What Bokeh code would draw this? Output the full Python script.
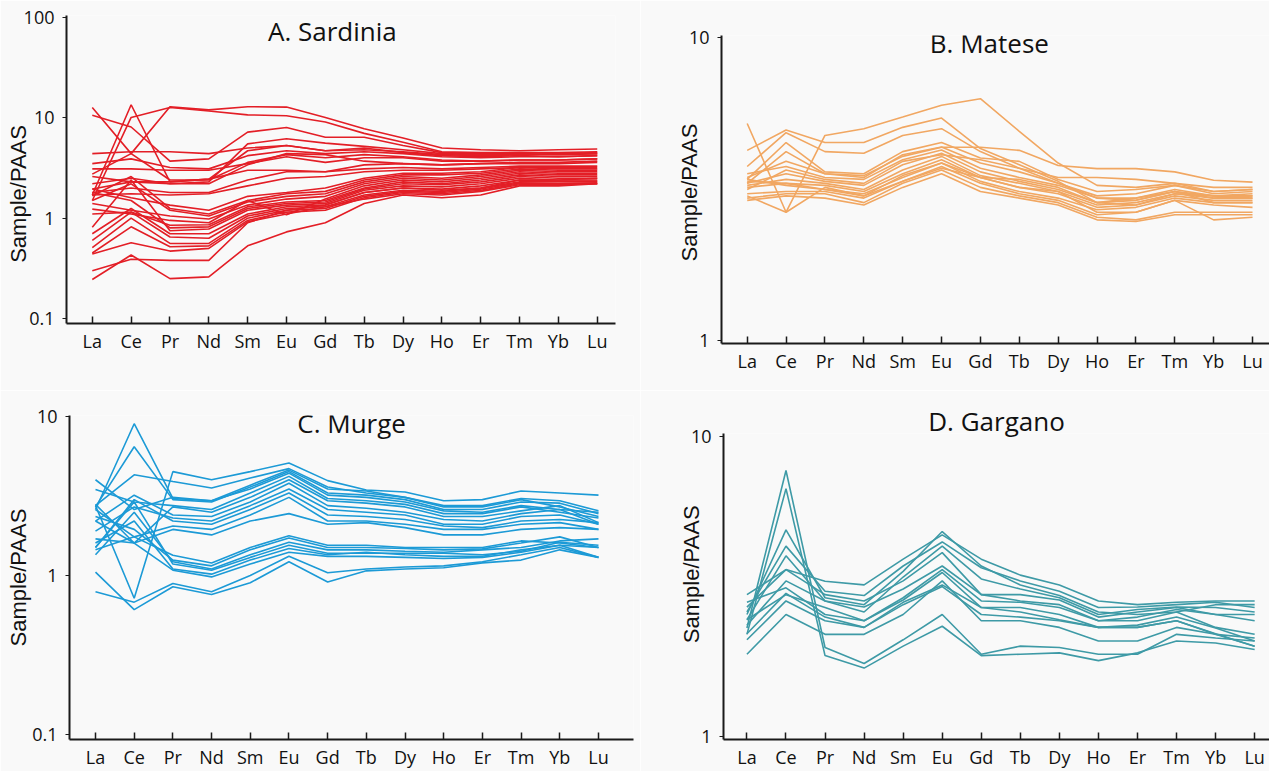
from bokeh.plotting import figure
from bokeh.layouts import column, row
from bokeh.models import FixedTicker, CustomJSTickFormatter, Label, Range1d, Title
from bokeh.embed import file_html
from bokeh.resources import INLINE

elements = ["La", "Ce", "Pr", "Nd", "Sm", "Eu", "Gd", "Tb", "Dy", "Ho", "Er", "Tm", "Yb", "Lu"]

# A. Sardinia  (Sample/PAAS, one row per sample, La..Lu)
sardinia = [
    [12.7, 4.4, 2.4, 2.4, 3.6, 4.3, 4.0, 4.3, 4.1, 3.8, 3.7, 3.8, 3.8, 3.9],
    [10.6, 8.1, 3.7, 3.9, 7.2, 8.0, 6.4, 6.4, 5.3, 4.5, 4.4, 4.4, 4.3, 4.4],
    [1.7, 13.5, 2.3, 2.45, 4.7, 5.3, 4.7, 5.0, 4.5, 4.2, 4.1, 4.2, 4.1, 4.2],
    [2.75, 4.4, 12.9, 12.0, 12.9, 12.8, 10.1, 7.8, 6.3, 5.0, 4.8, 4.7, 4.8, 4.9],
    [1.5, 10.1, 12.7, 11.7, 10.7, 10.5, 9.1, 7.0, 5.7, 4.6, 4.5, 4.5, 4.5, 4.6],
    [4.4, 4.6, 4.6, 4.4, 5.0, 5.3, 4.7, 4.8, 4.6, 4.3, 4.2, 4.3, 4.4, 4.5],
    [3.5, 3.9, 3.2, 3.1, 4.2, 4.7, 4.4, 4.6, 4.4, 4.1, 4.0, 4.1, 4.1, 4.2],
    [3.1, 3.1, 3.0, 3.0, 3.5, 4.1, 3.6, 4.0, 4.0, 3.7, 3.7, 3.8, 3.8, 3.9],
    [2.6, 2.3, 2.2, 2.2, 3.4, 4.4, 4.3, 3.7, 3.5, 3.4, 3.5, 3.6, 3.6, 3.7],
    [2.2, 2.5, 2.2, 2.3, 5.5, 6.2, 5.6, 5.2, 4.8, 4.4, 4.3, 4.3, 4.3, 4.4],
    [1.95, 2.3, 2.3, 2.45, 3.0, 3.0, 2.9, 3.4, 3.5, 3.4, 3.5, 3.5, 3.5, 3.6],
    [1.8, 2.0, 1.8, 1.8, 2.4, 2.9, 2.9, 3.1, 3.2, 3.1, 3.2, 3.3, 3.3, 3.3],
    [1.7, 1.75, 1.7, 1.75, 2.1, 2.5, 2.6, 2.9, 3.0, 3.0, 3.1, 3.2, 3.2, 3.2],
    [1.95, 1.6, 1.35, 1.2, 1.65, 1.8, 2.0, 2.5, 2.8, 2.8, 2.9, 3.2, 3.1, 3.1],
    [1.67, 2.6, 1.25, 1.1, 1.5, 1.75, 1.85, 2.4, 2.7, 2.7, 2.8, 3.1, 3.0, 3.0],
    [1.5, 2.2, 1.2, 1.05, 1.45, 1.65, 1.75, 2.3, 2.6, 2.5, 2.7, 3.0, 2.9, 2.9],
    [1.4, 1.2, 1.05, 0.98, 1.35, 1.55, 1.65, 2.2, 2.5, 2.4, 2.6, 2.9, 2.8, 2.8],
    [1.23, 1.1, 0.95, 0.9, 1.5, 1.08, 1.55, 2.1, 2.4, 2.3, 2.5, 2.8, 2.7, 2.7],
    [1.1, 1.15, 0.85, 0.86, 1.3, 1.45, 1.5, 2.0, 2.3, 2.2, 2.4, 2.7, 2.6, 2.6],
    [1.8, 1.5, 0.8, 0.82, 1.25, 1.4, 1.45, 1.95, 2.2, 2.15, 2.3, 2.6, 2.5, 2.5],
    [0.81, 2.4, 0.75, 0.78, 1.2, 1.35, 1.4, 1.9, 2.1, 2.05, 2.2, 2.5, 2.4, 2.4],
    [0.7, 1.25, 0.7, 0.7, 1.1, 1.3, 1.35, 1.8, 2.0, 1.95, 2.1, 2.4, 2.35, 2.35],
    [0.6, 1.15, 0.65, 0.63, 1.05, 1.25, 1.3, 1.7, 1.9, 1.85, 2.0, 2.3, 2.3, 2.3],
    [0.51, 1.0, 0.56, 0.56, 1.0, 1.2, 1.25, 1.65, 1.85, 1.8, 1.95, 2.25, 2.2, 2.25],
    [0.45, 0.82, 0.52, 0.53, 0.95, 1.15, 1.2, 1.6, 1.8, 1.75, 1.9, 2.2, 2.2, 2.2],
    [0.44, 0.57, 0.47, 0.5, 0.92, 1.1, 1.3, 1.55, 1.75, 1.7, 1.85, 2.15, 2.15, 2.2],
    [0.30, 0.39, 0.38, 0.38, 0.9, 1.2, 1.35, 1.8, 2.0, 1.9, 2.0, 2.4, 2.4, 2.5],
    [0.245, 0.43, 0.25, 0.26, 0.53, 0.73, 0.9, 1.4, 1.7, 1.6, 1.7, 2.1, 2.1, 2.2],
]

# B. Matese
matese = [
    [5.2, 2.65, 3.2, 3.0, 3.5, 3.85, 3.45, 3.2, 3.1, 2.65, 2.65, 2.9, 2.5, 2.55],
    [3.0, 2.65, 4.75, 5.0, 5.46, 5.97, 6.28, 4.9, 3.85, 3.25, 3.2, 3.3, 3.2, 3.2],
    [4.24, 4.95, 4.5, 4.5, 5.05, 5.42, 4.3, 3.8, 3.35, 2.85, 2.8, 3.05, 3.0, 2.95],
    [3.75, 4.85, 4.2, 4.15, 4.75, 5.0, 4.2, 3.7, 3.3, 2.95, 2.9, 3.1, 3.0, 3.0],
    [3.45, 3.9, 3.55, 3.5, 4.05, 4.34, 4.34, 4.24, 3.78, 3.69, 3.69, 3.6, 3.38, 3.33],
    [3.4, 4.5, 3.6, 3.55, 4.2, 4.5, 4.0, 3.9, 3.4, 3.1, 3.15, 3.25, 3.1, 3.15],
    [3.3, 4.2, 3.55, 3.45, 4.1, 4.35, 3.85, 3.6, 3.3, 3.0, 3.05, 3.25, 3.05, 3.1],
    [3.55, 3.75, 3.45, 3.4, 3.95, 4.25, 3.7, 3.45, 3.25, 2.95, 2.95, 3.15, 3.0, 3.05],
    [3.3, 3.55, 3.35, 3.25, 3.8, 4.15, 3.6, 3.35, 3.15, 2.85, 2.9, 3.1, 2.95, 3.0],
    [3.25, 3.4, 3.3, 3.15, 3.65, 4.05, 3.5, 3.3, 3.1, 2.8, 2.85, 3.05, 2.95, 2.95],
    [3.35, 3.3, 3.25, 3.1, 3.55, 3.95, 3.45, 3.2, 3.05, 2.75, 2.8, 3.0, 2.9, 2.9],
    [3.2, 3.3, 3.15, 3.05, 3.45, 3.85, 3.35, 3.1, 2.95, 2.7, 2.75, 2.95, 2.85, 2.85],
    [3.05, 3.1, 3.1, 2.95, 3.35, 3.75, 3.3, 3.05, 2.9, 2.6, 2.65, 2.9, 2.8, 2.75],
    [2.95, 3.05, 3.05, 2.85, 3.3, 3.65, 3.2, 3.0, 2.85, 2.55, 2.5, 2.65, 2.65, 2.65],
    [2.9, 3.0, 2.95, 2.8, 3.2, 3.55, 3.1, 2.95, 2.8, 2.5, 2.47, 2.6, 2.6, 2.6],
    [3.4, 3.25, 3.15, 3.0, 3.35, 3.7, 3.45, 3.4, 3.2, 2.85, 2.95, 3.1, 2.85, 2.85],
    [3.15, 3.65, 3.4, 3.3, 3.9, 4.1, 3.95, 3.7, 3.45, 3.45, 3.4, 3.3, 3.1, 3.15],
]

# C. Murge
murge = [
    [2.75, 0.72, 4.5, 4.0, 4.5, 5.1, 3.95, 3.45, 3.35, 2.95, 3.0, 3.4, 3.3, 3.2],
    [2.6, 9.0, 3.05, 2.95, 3.7, 4.6, 3.5, 3.4, 3.1, 2.75, 2.75, 3.05, 2.95, 2.55],
    [2.7, 6.45, 3.0, 2.9, 3.6, 4.5, 3.3, 3.2, 3.0, 2.6, 2.6, 2.9, 2.85, 2.45],
    [2.75, 4.3, 3.9, 3.55, 4.1, 4.7, 3.6, 3.3, 3.1, 2.7, 2.7, 3.0, 2.7, 2.35],
    [4.0, 2.6, 3.1, 2.95, 3.5, 4.4, 3.2, 3.1, 2.9, 2.55, 2.5, 2.75, 2.6, 2.5],
    [3.47, 2.9, 2.75, 2.6, 3.3, 4.2, 3.05, 2.95, 2.8, 2.45, 2.45, 2.7, 2.5, 2.3],
    [2.8, 1.6, 2.7, 2.5, 3.1, 4.0, 2.95, 2.85, 2.7, 2.35, 2.35, 2.55, 2.75, 2.15],
    [2.2, 3.2, 2.4, 2.35, 2.9, 3.8, 2.75, 2.65, 2.5, 2.25, 2.2, 2.45, 2.6, 2.1],
    [1.9, 2.7, 2.3, 2.2, 2.75, 3.5, 2.6, 2.5, 2.4, 2.1, 2.1, 2.35, 2.4, 2.1],
    [1.5, 3.0, 2.2, 2.1, 2.6, 3.3, 2.4, 2.35, 2.25, 2.05, 2.0, 2.2, 2.25, 2.15],
    [1.45, 1.75, 2.05, 1.95, 2.4, 3.1, 2.2, 2.2, 2.1, 1.95, 1.95, 2.1, 2.15, 1.95],
    [2.2, 1.6, 1.95, 1.8, 2.2, 2.45, 2.1, 2.15, 2.0, 1.8, 1.8, 1.95, 2.0, 1.95],
    [2.6, 1.75, 1.34, 1.2, 1.5, 1.78, 1.55, 1.55, 1.5, 1.5, 1.5, 1.65, 1.6, 1.5],
    [2.35, 1.95, 1.25, 1.15, 1.45, 1.72, 1.5, 1.5, 1.48, 1.45, 1.47, 1.6, 1.75, 1.5],
    [1.35, 2.5, 1.22, 1.1, 1.35, 1.62, 1.45, 1.45, 1.42, 1.4, 1.45, 1.5, 1.65, 1.7],
    [1.5, 2.9, 1.18, 1.08, 1.3, 1.55, 1.38, 1.38, 1.38, 1.38, 1.35, 1.42, 1.62, 1.55],
    [1.6, 2.2, 1.1, 1.02, 1.25, 1.48, 1.35, 1.4, 1.35, 1.32, 1.32, 1.45, 1.55, 1.5],
    [1.7, 1.6, 1.08, 0.98, 1.18, 1.4, 1.32, 1.32, 1.3, 1.28, 1.3, 1.4, 1.55, 1.3],
    [1.05, 0.61, 0.85, 0.76, 0.9, 1.22, 0.91, 1.07, 1.1, 1.12, 1.2, 1.25, 1.45, 1.3],
    [0.79, 0.68, 0.89, 0.79, 1.0, 1.32, 1.04, 1.1, 1.13, 1.15, 1.22, 1.35, 1.5, 1.3],
]

# D. Gargano
gargano = [
    [2.3, 7.7, 1.98, 1.75, 2.1, 2.55, 1.88, 2.0, 1.98, 1.88, 1.88, 2.19, 2.13, 2.08],
    [2.19, 6.7, 1.86, 1.69, 2.0, 2.33, 1.86, 1.88, 1.9, 1.79, 1.9, 2.08, 2.05, 1.95],
    [2.55, 4.88, 2.9, 2.75, 3.55, 4.82, 3.7, 3.2, 2.95, 2.6, 2.55, 2.6, 2.75, 2.75],
    [2.97, 3.6, 3.29, 3.2, 3.9, 4.7, 3.9, 3.45, 3.2, 2.83, 2.75, 2.8, 2.83, 2.83],
    [2.6, 4.31, 3.05, 2.95, 3.7, 4.45, 3.65, 3.3, 3.05, 2.69, 2.7, 2.75, 2.8, 2.69],
    [2.45, 4.0, 2.83, 2.6, 3.4, 4.31, 3.35, 3.1, 2.9, 2.55, 2.65, 2.7, 2.69, 2.6],
    [2.7, 3.6, 2.97, 2.83, 3.3, 4.1, 2.97, 2.97, 2.85, 2.5, 2.6, 2.69, 2.55, 2.55],
    [2.35, 3.3, 2.83, 2.7, 3.1, 3.7, 2.97, 2.83, 2.75, 2.43, 2.5, 2.65, 2.55, 2.43],
    [2.8, 3.13, 2.55, 2.43, 2.9, 3.6, 2.83, 2.8, 2.69, 2.43, 2.43, 2.6, 2.31, 2.19],
    [2.45, 2.97, 2.69, 2.43, 2.85, 3.52, 2.69, 2.69, 2.55, 2.31, 2.31, 2.43, 2.19, 2.13],
    [2.2, 3.0, 2.5, 2.31, 2.8, 3.2, 2.69, 2.6, 2.45, 2.31, 2.35, 2.5, 2.3, 2.08],
    [2.1, 2.83, 2.43, 2.31, 2.75, 3.16, 2.55, 2.5, 2.43, 2.31, 2.31, 2.43, 2.2, 2.0],
    [1.88, 2.55, 2.19, 2.19, 2.55, 3.3, 2.43, 2.43, 2.31, 2.08, 2.08, 2.31, 2.19, 2.0],
]

FONT = "Open Sans"
BG = "#f9f9f9"
NB = "\u00a0"


def panel(data, color, title, width, height, borders, xr, yr, yticks,
          title_pos, label_standoff, ylabel):
    left, right, top, bottom = borders
    p = figure(width=width, height=height, x_range=Range1d(*xr), y_range=Range1d(*yr),
               y_axis_type="log", output_backend="svg", toolbar_location=None, title=None,
               min_border_left=left, min_border_right=right,
               min_border_top=top, min_border_bottom=bottom,
               background_fill_color=BG, border_fill_color=BG, outline_line_color=None)
    xs = list(range(len(elements)))
    p.multi_line([xs] * len(data), data, line_color=color, line_width=1.6)
    p.grid.visible = False

    ax = p.xaxis[0]
    ax.ticker = FixedTicker(ticks=xs)
    ax.major_label_overrides = {i: e for i, e in enumerate(elements)}
    ax.major_tick_in = 7
    ax.major_tick_out = 0
    ax.minor_tick_line_color = None
    ax.major_tick_line_width = 1.5
    ax.axis_line_width = 2
    ax.axis_line_color = "#1a1a1a"
    ax.major_tick_line_color = "#1a1a1a"
    ax.major_label_text_font = FONT
    ax.major_label_text_font_size = "18px"
    ax.major_label_text_color = "#111111"
    ax.major_label_standoff = 5

    ay = p.yaxis[0]
    ay.ticker = FixedTicker(ticks=yticks)
    ay.formatter = CustomJSTickFormatter(code="return tick.toString();")
    ay.major_tick_in = 0
    ay.major_tick_out = 4
    ay.minor_tick_line_color = None
    ay.axis_line_width = 2
    ay.axis_line_color = "#1a1a1a"
    ay.major_tick_line_color = "#1a1a1a"
    ay.major_label_text_font = FONT
    ay.major_label_text_font_size = "18px"
    ay.major_label_text_color = "#111111"
    ay.major_label_standoff = 8
    ay.axis_label = ylabel
    ay.axis_label_text_font = "Liberation Sans"
    ay.axis_label_text_font_size = "22px"
    ay.axis_label_text_font_style = "normal"
    ay.axis_label_text_color = "#111111"
    ay.axis_label_standoff = label_standoff

    if title_pos is None:
        p.add_layout(Title(text=title, align="center", text_font=FONT,
                           text_font_size="26px", text_font_style="normal",
                           text_color="#111111", standoff=-10), "above")
    else:
        p.add_layout(Label(x=title_pos[0], y=title_pos[1], text=title, text_align="center",
                           text_baseline="alphabetic", text_font=FONT,
                           text_font_size="26px", text_color="#111111"))
    return p


pA = panel(sardinia, "#e31e26", "A. Sardinia", 640, 390, (66, 25, 15, 67),
           (-0.664, 13.47), (0.0892, 104.7), [0.1, 1, 10, 100], (6.18, 72.9), -10,
           "Sample/PAAS" + NB * 8)
pB = panel(matese, "#f1a762", "B. Matese", 629, 390, (81, 0, 35, 47),
           (-0.661, 13.437), (0.977, 10.15), [1, 10], (6.23, 9.62), -16,
           "Sample/PAAS" + NB)
pC = panel(murge, "#1c9ad6", "C. Murge", 640, 381, (69, 7, 25, 29),
           (-0.672, 13.905), (0.0931, 10.14), [0.1, 1, 10], (6.62, 9.15), -2,
           "Sample/PAAS")
pD = panel(gargano, "#3e9aa6", "D. Gargano", 629, 381, (83, 0, 43, 30),
           (-0.6, 13.38), (0.977, 10.23), [1, 10], None, -16,
           NB * 4 + "Sample/PAAS")

layout = column(row(column(pA), column(pB)),
                row(column(pC), column(pD)))

open("out.html", "w").write(file_html(layout, INLINE))
